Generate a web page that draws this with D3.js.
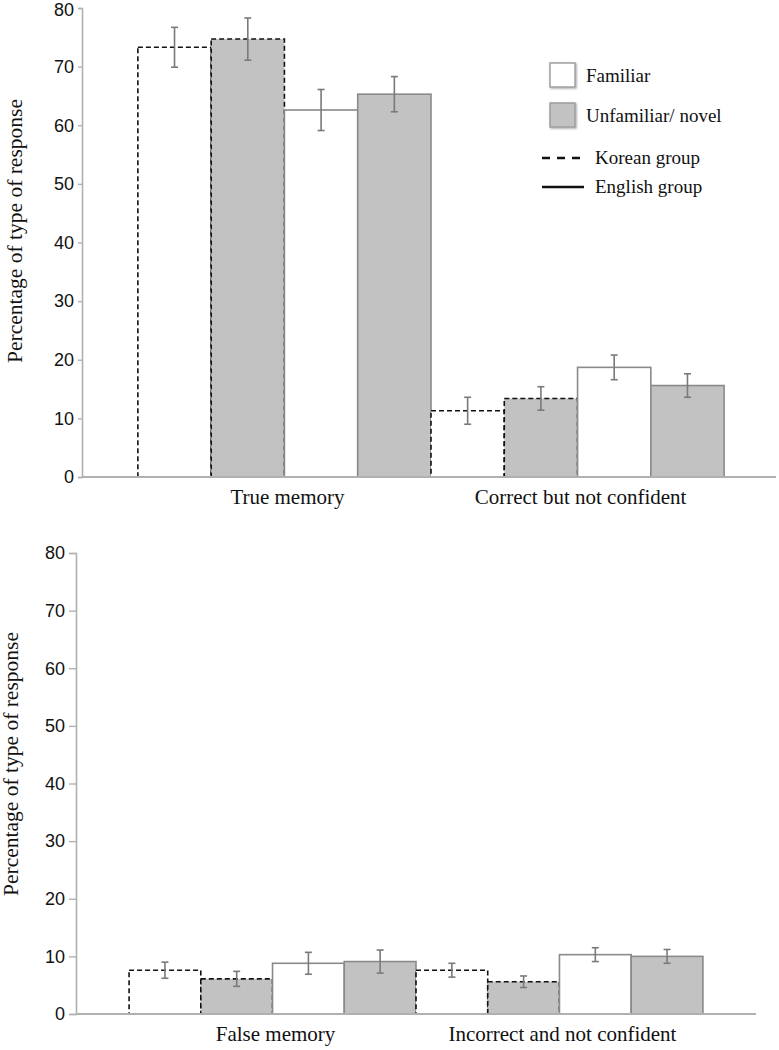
<!DOCTYPE html>
<html>
<head>
<meta charset="utf-8">
<script src="https://cdn.jsdelivr.net/npm/d3@7"></script>
<style>
  html, body { margin: 0; padding: 0; background: #fff; }
  svg { display: block; }
</style>
</head>
<body>
<svg id="chart" width="779" height="1050"></svg>
<script>
// ---- data ----
const seriesKeys = ["Korean familiar", "Korean unfamiliar", "English familiar", "English unfamiliar"];
const seriesGroup = ["Korean", "Korean", "English", "English"];
const seriesFamiliar = [true, false, true, false];

const topCategories = ["True memory", "Correct but not confident"];
const topValues = [
  [73.3, 74.7, 62.6, 65.3],
  [11.3, 13.4, 18.7, 15.6]
];
const topErrors = [
  [3.4, 3.6, 3.5, 3.0],
  [2.3, 2.0, 2.1, 2.0]
];

const bottomCategories = ["False memory", "Incorrect and not confident"];
const bottomValues = [
  [7.6, 6.1, 8.8, 9.1],
  [7.6, 5.6, 10.3, 10.0]
];
const bottomErrors = [
  [1.4, 1.3, 1.9, 2.0],
  [1.2, 1.0, 1.2, 1.2]
];

const yTicks = [0, 10, 20, 30, 40, 50, 60, 70, 80];
const yTitle = "Percentage of type of response";
const legendFill = ["Familiar", "Unfamiliar/ novel"];
const legendLine = ["Korean group", "English group"];

// ---- styles ----
const GRAY_FILL = "#c2c2c2";
const AXIS_COLOR = "#b0b0b0";
const ENG_STROKE = "#8a8a8a";
const ERR_COLOR = "#7a7a7a";
const SERIF = "'Liberation Serif', 'Times New Roman', serif";
const SANS = "'Liberation Sans', Arial, sans-serif";

const svg = d3.select("#chart");

function panel(cfg) {
  const g = svg.append("g");
  const y = d3.scaleLinear().domain([0, 80]).range([cfg.y0, cfg.y80]);
  const x0 = d3.scaleBand().domain(cfg.categories).range([cfg.bandLeft, cfg.bandRight])
    .paddingInner(0).paddingOuter(cfg.po);
  const x1 = d3.scaleBand().domain(seriesKeys).range([0, x0.bandwidth()]).padding(0);

  // y axis
  const yAxis = d3.axisLeft(y).tickValues(yTicks).tickSize(cfg.tick).tickPadding(4).tickFormat(d3.format("d"));
  const ya = g.append("g").attr("transform", `translate(${cfg.axisX},0)`).call(yAxis);
  ya.select(".domain").attr("stroke", AXIS_COLOR).attr("stroke-width", 1.6);
  ya.selectAll(".tick line").attr("stroke", AXIS_COLOR).attr("stroke-width", 1.4);
  ya.selectAll(".tick text").attr("font-family", SANS).attr("font-size", 18).attr("fill", "#111")
    .attr("dy", d => d === 80 && cfg.y80 < 12 ? "0.42em" : "0.32em");

  // bars
  cfg.categories.forEach((cat, ci) => {
    seriesKeys.forEach((s, si) => {
      const v = cfg.values[ci][si];
      const bx = x0(cat) + x1(s);
      const korean = seriesGroup[si] === "Korean";
      g.append("rect")
        .attr("x", bx).attr("y", y(v))
        .attr("width", x1.bandwidth()).attr("height", y(0) - y(v))
        .attr("fill", seriesFamiliar[si] ? "#fff" : GRAY_FILL)
        .attr("stroke", korean ? "#111" : ENG_STROKE)
        .attr("stroke-width", 1.6)
        .attr("stroke-dasharray", korean ? "5,3" : null);
    });
  });
  // error bars
  cfg.categories.forEach((cat, ci) => {
    seriesKeys.forEach((s, si) => {
      const v = cfg.values[ci][si], e = cfg.errors[ci][si];
      const cx = x0(cat) + x1(s) + x1.bandwidth() / 2;
      const eg = g.append("g").attr("stroke", ERR_COLOR).attr("stroke-width", 1.6);
      eg.append("line").attr("x1", cx).attr("x2", cx).attr("y1", y(v + e)).attr("y2", y(v - e));
      eg.append("line").attr("x1", cx - 3.5).attr("x2", cx + 3.5).attr("y1", y(v + e)).attr("y2", y(v + e));
      eg.append("line").attr("x1", cx - 3.5).attr("x2", cx + 3.5).attr("y1", y(v - e)).attr("y2", y(v - e));
    });
  });

  // x axis baseline
  g.append("line").attr("x1", cfg.axisX).attr("x2", cfg.xEnd)
    .attr("y1", y(0)).attr("y2", y(0)).attr("stroke", AXIS_COLOR).attr("stroke-width", 1.8);
  const xAxis = d3.axisBottom(x0).tickSize(0).tickPadding(0);
  const xa = g.append("g").attr("transform", `translate(0,${y(0)})`).call(xAxis);
  xa.select(".domain").remove();
  xa.selectAll(".tick text").attr("font-family", SERIF).attr("font-size", 21).attr("fill", "#111")
    .attr("dy", 0).attr("y", cfg.labelDy).attr("dx", 3);

  // y title
  g.append("text")
    .attr("transform", `translate(${cfg.titleX},${cfg.titleY}) rotate(-90)`)
    .attr("text-anchor", "middle")
    .attr("font-family", SERIF).attr("font-size", 21.5).attr("fill", "#111")
    .text(yTitle);
  return g;
}

panel({
  categories: topCategories, values: topValues, errors: topErrors,
  y0: 477, y80: 8, axisX: 82, tick: 4, bandLeft: 86, bandRight: 776, po: 0.177, xEnd: 776,
  labelDy: 27, titleX: 22, titleY: 231
});
panel({
  categories: bottomCategories, values: bottomValues, errors: bottomErrors,
  y0: 1014, y80: 553, axisX: 76, tick: 7, bandLeft: 76, bandRight: 756, po: 0.185, xEnd: 756,
  labelDy: 27, titleX: 18, titleY: 764
});

// legend
const lg = svg.append("g");
const defs = svg.append("defs");
const f = defs.append("filter").attr("id", "sh").attr("x", "-30%").attr("y", "-30%").attr("width", "160%").attr("height", "160%");
f.append("feDropShadow").attr("dx", 1).attr("dy", 1).attr("stdDeviation", 1.2).attr("flood-color", "#000").attr("flood-opacity", 0.35);
legendFill.forEach((t, i) => {
  const yy = 63 + i * 40;
  lg.append("rect").attr("x", 550).attr("y", yy).attr("width", 25).attr("height", 24)
    .attr("fill", i === 0 ? "#fff" : GRAY_FILL).attr("stroke", "#9a9a9a").attr("stroke-width", 1.4)
    .attr("filter", "url(#sh)");
  lg.append("text").attr("x", 586).attr("y", yy + 19).attr("font-family", SERIF).attr("font-size", 19)
    .attr("fill", "#111").text(t);
});
legendLine.forEach((t, i) => {
  const yy = 158 + i * 29;
  lg.append("line").attr("x1", 542).attr("x2", 584).attr("y1", yy).attr("y2", yy)
    .attr("stroke", "#111").attr("stroke-width", 2.6)
    .attr("stroke-dasharray", i === 0 ? "8,7" : null);
  lg.append("text").attr("x", 595).attr("y", yy + 6).attr("font-family", SERIF).attr("font-size", 19)
    .attr("fill", "#111").text(t);
});
</script>
</body>
</html>
